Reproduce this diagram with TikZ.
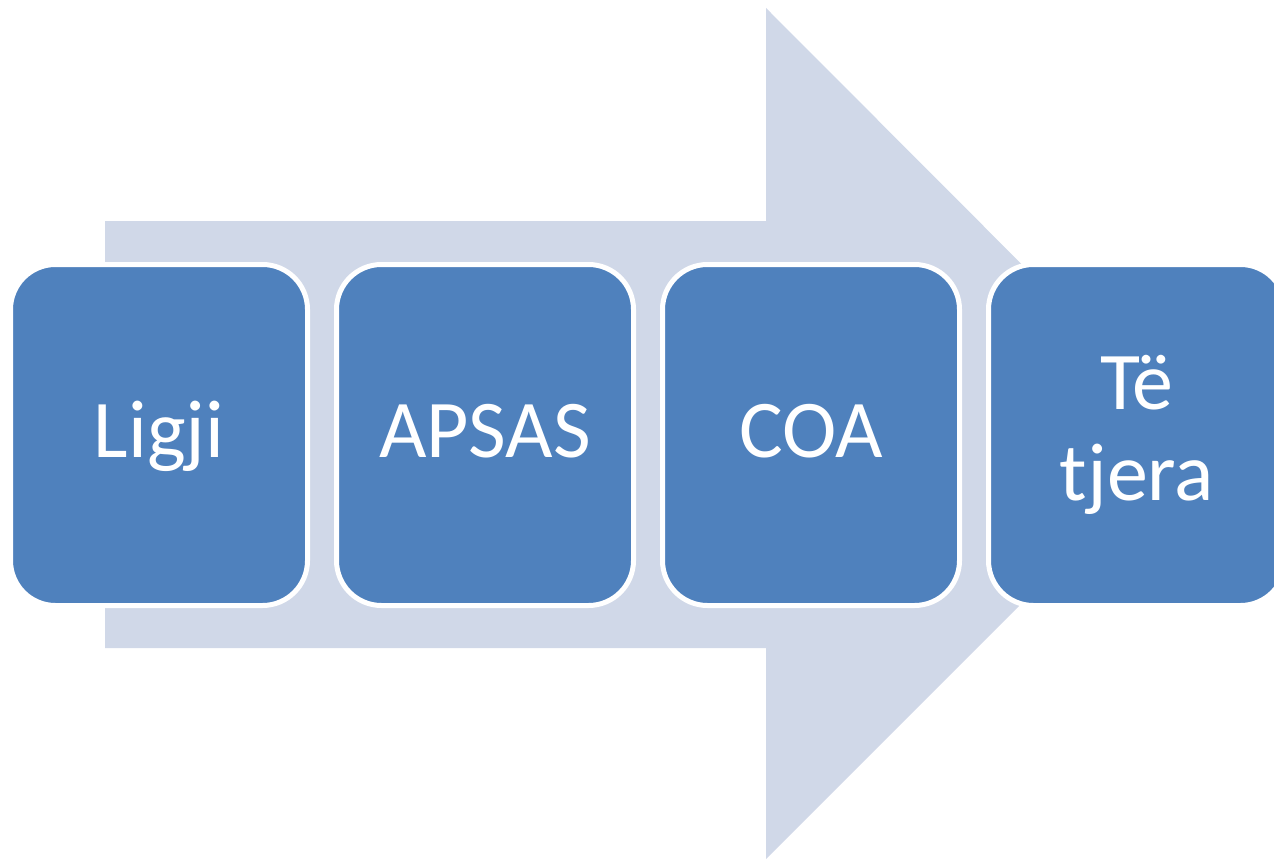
\documentclass[tikz,border=0pt]{standalone}
\usepackage{fontspec}
\setmainfont{Carlito}
\usetikzlibrary{positioning}
\definecolor{boxblue}{HTML}{4F81BD}
\definecolor{arrowgray}{HTML}{D0D8E8}

\begin{document}
\begin{tikzpicture}[x=0.5pt,y=0.5pt,
    stage/.style={rectangle, rounded corners=22.5pt, fill=boxblue, draw=white, line width=2.5pt,
        minimum width=148.5pt, minimum height=170.5pt, outer sep=0pt, inner sep=0pt,
        text=white, font=\fontsize{41}{45.5}\selectfont},
    oneline/.style={text height=31pt, text depth=9pt}]
    \useasboundingbox (0,0) rectangle (1274,859);
    \clip (0,0) rectangle (1274,859);
    \fill[arrowgray] (105,211) -- (766,211) -- (766,0) -- (1191,425) -- (766,851) -- (766,638) -- (105,638) -- cycle;
    \node (ligji) [stage, oneline] at (159,424) {Ligji};
    \node (apsas) [stage, oneline, right=14.5pt of ligji] {APSAS};
    \node (coa) [stage, oneline, right=14.5pt of apsas] {COA};
    \node (tjera) [stage, align=center, right=14.5pt of coa] {Të\\tjera};
\end{tikzpicture}
\end{document}
